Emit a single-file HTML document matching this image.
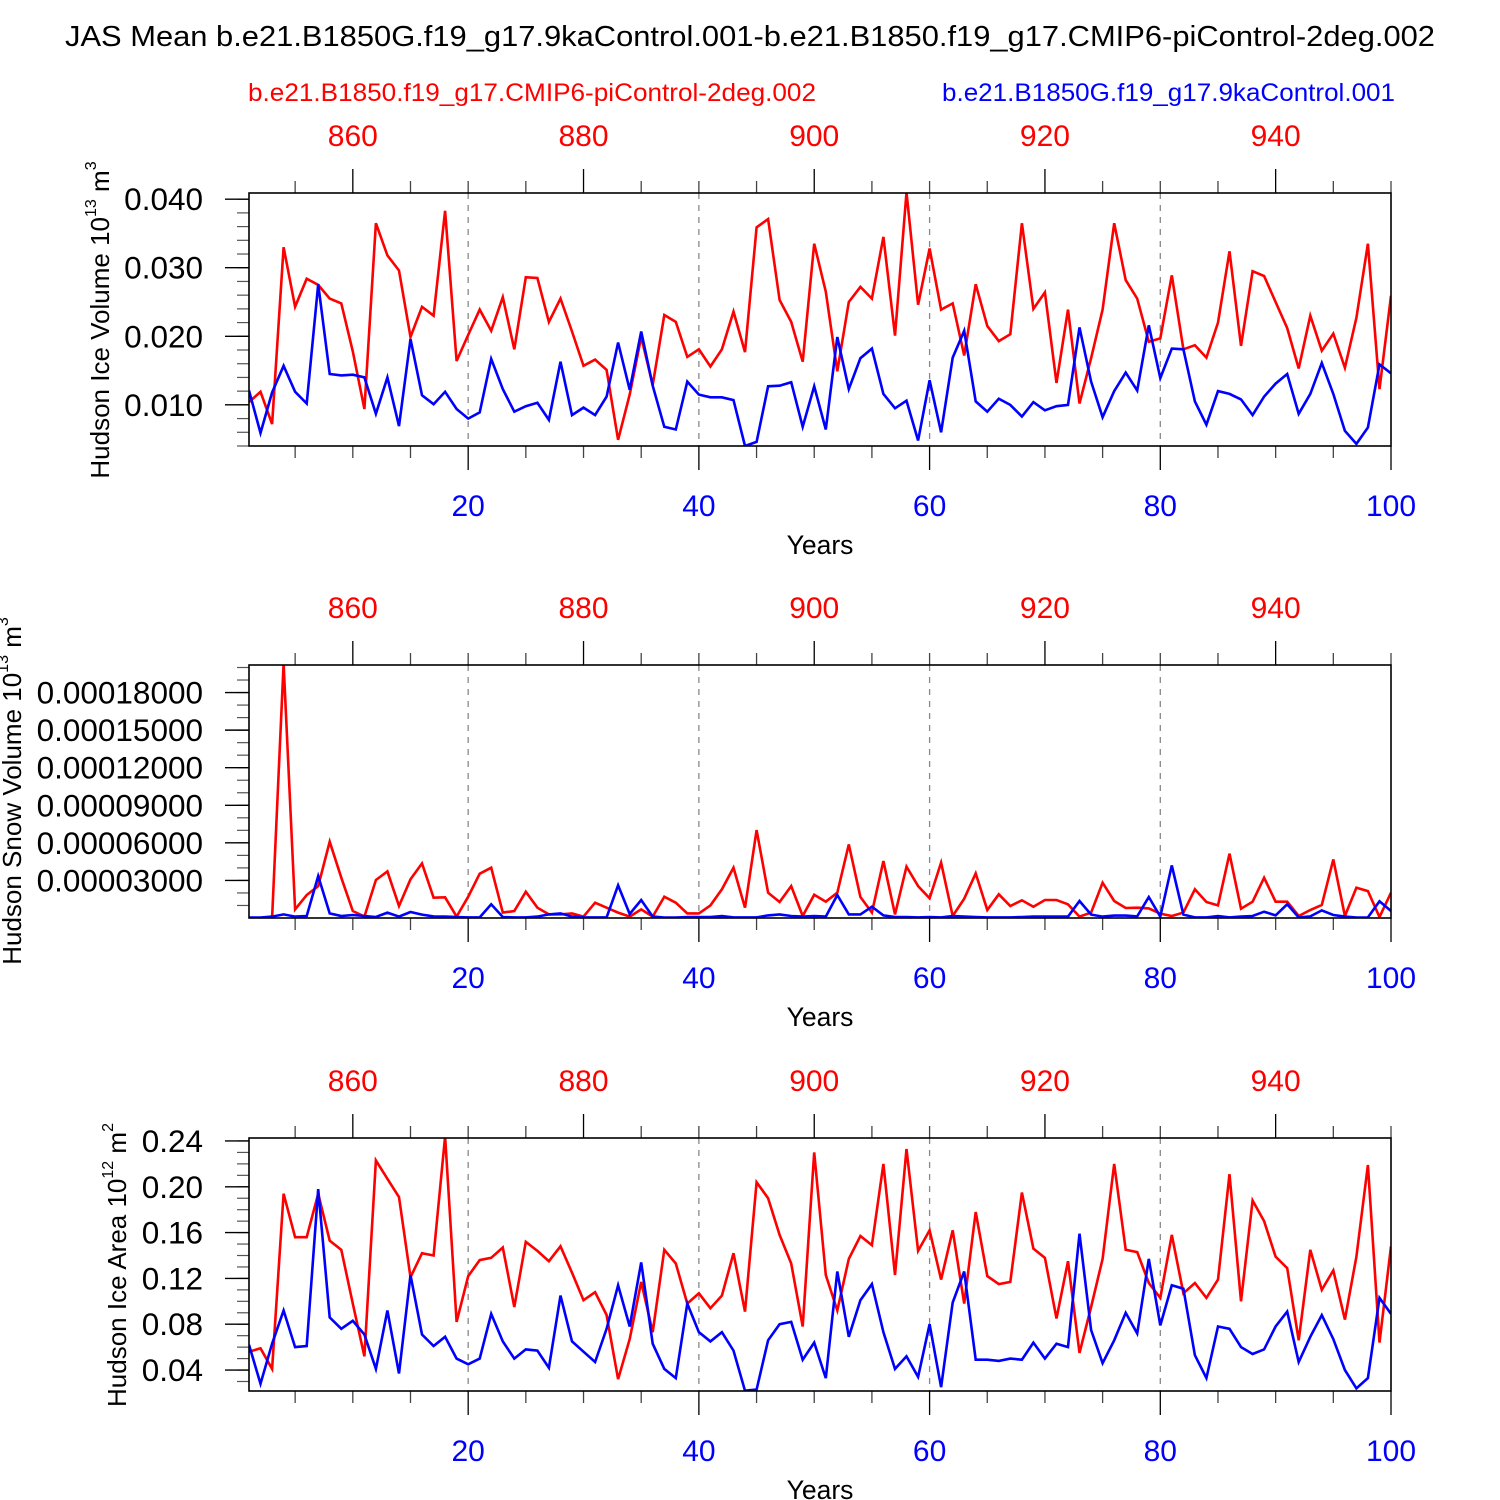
<!DOCTYPE html>
<html><head><meta charset="utf-8"><style>
body{margin:0;background:#fff;}
svg{display:block;font-family:"Liberation Sans",Arial,sans-serif;}
</style></head><body>
<svg id="chart" width="1500" height="1500" viewBox="0 0 1500 1500" xmlns="http://www.w3.org/2000/svg">
<text x="65" y="46" textLength="1370" lengthAdjust="spacingAndGlyphs" font-size="29" fill="#000">JAS Mean b.e21.B1850G.f19_g17.9kaControl.001-b.e21.B1850.f19_g17.CMIP6-piControl-2deg.002</text>
<text x="248" y="101" textLength="568" lengthAdjust="spacingAndGlyphs" font-size="25" fill="#ff0000">b.e21.B1850.f19_g17.CMIP6-piControl-2deg.002</text>
<text x="942" y="101" textLength="453" lengthAdjust="spacingAndGlyphs" font-size="25" fill="#0000ff">b.e21.B1850G.f19_g17.9kaControl.001</text>
</svg>
<script>
const years = Array.from({length:100},(_,i)=>i+1);
const bottomTicks = [20,40,60,80,100];
const topTicks = [860,880,900,920,940];
const yearOffset = 850;

const iceVolRed = [0.0104,0.0119,0.0072,0.0330,0.0243,0.0284,0.0275,0.0255,0.0248,0.0178,0.0094,0.0365,0.0318,0.0296,0.0199,0.0243,0.0230,0.0383,0.0164,0.0202,0.0239,0.0208,0.0257,0.0181,0.0286,0.0285,0.0221,0.0255,0.0207,0.0157,0.0166,0.0151,0.0049,0.0115,0.0199,0.0129,0.0231,0.0221,0.0170,0.0181,0.0156,0.0181,0.0236,0.0177,0.0359,0.0371,0.0253,0.0221,0.0163,0.0335,0.0265,0.0149,0.0250,0.0272,0.0255,0.0345,0.0201,0.0410,0.0246,0.0328,0.0239,0.0248,0.0172,0.0276,0.0215,0.0193,0.0203,0.0365,0.0240,0.0264,0.0132,0.0239,0.0102,0.0168,0.0239,0.0365,0.0282,0.0255,0.0192,0.0197,0.0289,0.0181,0.0187,0.0169,0.0220,0.0324,0.0186,0.0295,0.0288,0.0250,0.0212,0.0153,0.0230,0.0179,0.0204,0.0154,0.0227,0.0335,0.0123,0.0259];
const iceVolBlue = [0.0121,0.0059,0.0118,0.0157,0.0119,0.0102,0.0276,0.0145,0.0143,0.0144,0.0140,0.0087,0.0140,0.0069,0.0196,0.0114,0.0101,0.0119,0.0094,0.0080,0.0089,0.0167,0.0123,0.0090,0.0098,0.0103,0.0078,0.0163,0.0085,0.0096,0.0085,0.0112,0.0191,0.0122,0.0207,0.0128,0.0068,0.0064,0.0134,0.0115,0.0111,0.0111,0.0107,0.0040,0.0046,0.0127,0.0128,0.0133,0.0068,0.0127,0.0064,0.0199,0.0123,0.0168,0.0182,0.0116,0.0095,0.0106,0.0048,0.0136,0.0060,0.0169,0.0208,0.0105,0.0090,0.0109,0.0100,0.0083,0.0104,0.0092,0.0098,0.0100,0.0213,0.0134,0.0082,0.0120,0.0147,0.0121,0.0216,0.0139,0.0182,0.0181,0.0105,0.0071,0.0120,0.0116,0.0108,0.0085,0.0112,0.0131,0.0145,0.0087,0.0116,0.0161,0.0116,0.0062,0.0043,0.0067,0.0159,0.0146];

const snowRed = [0.01e-5,0.00e-5,0.02e-5,20.3e-5,0.69e-5,1.84e-5,2.55e-5,6.09e-5,3.22e-5,0.56e-5,0.11e-5,3.03e-5,3.72e-5,0.96e-5,3.09e-5,4.36e-5,1.62e-5,1.65e-5,0.11e-5,1.70e-5,3.54e-5,4.02e-5,0.43e-5,0.56e-5,2.10e-5,0.82e-5,0.29e-5,0.29e-5,0.37e-5,0.11e-5,1.22e-5,0.82e-5,0.43e-5,0.11e-5,0.69e-5,0.11e-5,1.70e-5,1.22e-5,0.37e-5,0.37e-5,1.01e-5,2.29e-5,4.02e-5,0.82e-5,7.02e-5,2.02e-5,1.28e-5,2.55e-5,0.16e-5,1.86e-5,1.30e-5,2.02e-5,5.88e-5,1.68e-5,0.43e-5,4.55e-5,0.29e-5,4.10e-5,2.55e-5,1.57e-5,4.42e-5,0.16e-5,1.54e-5,3.56e-5,0.64e-5,1.89e-5,0.96e-5,1.41e-5,0.90e-5,1.44e-5,1.44e-5,1.09e-5,0.11e-5,0.43e-5,2.82e-5,1.36e-5,0.80e-5,0.82e-5,0.77e-5,0.35e-5,0.16e-5,0.43e-5,2.29e-5,1.28e-5,1.01e-5,5.13e-5,0.74e-5,1.30e-5,3.22e-5,1.30e-5,1.30e-5,0.16e-5,0.64e-5,1.04e-5,4.68e-5,0.16e-5,2.42e-5,2.15e-5,0.08e-5,2.02e-5];
const snowBlue = [0.03e-5,0.03e-5,0.11e-5,0.29e-5,0.11e-5,0.16e-5,3.35e-5,0.37e-5,0.16e-5,0.24e-5,0.16e-5,0.08e-5,0.43e-5,0.11e-5,0.48e-5,0.27e-5,0.13e-5,0.11e-5,0.08e-5,0.05e-5,0.05e-5,1.09e-5,0.08e-5,0.05e-5,0.05e-5,0.11e-5,0.29e-5,0.37e-5,0.11e-5,0.05e-5,0.05e-5,0.05e-5,2.61e-5,0.32e-5,1.44e-5,0.11e-5,0.03e-5,0.03e-5,0.08e-5,0.08e-5,0.08e-5,0.16e-5,0.05e-5,0.05e-5,0.05e-5,0.21e-5,0.29e-5,0.16e-5,0.11e-5,0.16e-5,0.11e-5,1.84e-5,0.29e-5,0.29e-5,0.90e-5,0.21e-5,0.08e-5,0.08e-5,0.05e-5,0.08e-5,0.05e-5,0.16e-5,0.11e-5,0.08e-5,0.05e-5,0.05e-5,0.05e-5,0.08e-5,0.11e-5,0.11e-5,0.11e-5,0.11e-5,1.36e-5,0.27e-5,0.11e-5,0.19e-5,0.19e-5,0.13e-5,1.68e-5,0.11e-5,4.20e-5,0.27e-5,0.05e-5,0.05e-5,0.16e-5,0.05e-5,0.11e-5,0.16e-5,0.50e-5,0.21e-5,1.09e-5,0.05e-5,0.13e-5,0.61e-5,0.24e-5,0.11e-5,0.03e-5,0.05e-5,1.33e-5,0.56e-5];

const areaRed = [0.056,0.059,0.041,0.194,0.156,0.156,0.194,0.153,0.145,0.098,0.052,0.223,0.207,0.191,0.121,0.142,0.140,0.244,0.082,0.122,0.136,0.138,0.147,0.095,0.152,0.144,0.135,0.148,0.125,0.101,0.108,0.088,0.032,0.067,0.117,0.073,0.145,0.133,0.098,0.107,0.094,0.105,0.142,0.091,0.204,0.190,0.158,0.133,0.078,0.230,0.123,0.092,0.137,0.157,0.149,0.220,0.123,0.233,0.144,0.162,0.119,0.162,0.098,0.178,0.122,0.115,0.117,0.195,0.146,0.138,0.085,0.135,0.055,0.095,0.137,0.220,0.145,0.143,0.116,0.103,0.158,0.107,0.116,0.103,0.119,0.211,0.100,0.188,0.170,0.139,0.129,0.066,0.145,0.110,0.127,0.084,0.139,0.219,0.064,0.148];
const areaBlue = [0.062,0.028,0.063,0.092,0.060,0.061,0.198,0.086,0.076,0.083,0.071,0.041,0.092,0.037,0.123,0.071,0.061,0.069,0.050,0.045,0.050,0.089,0.065,0.050,0.058,0.057,0.042,0.105,0.065,0.056,0.047,0.076,0.114,0.078,0.134,0.063,0.041,0.033,0.098,0.073,0.065,0.073,0.057,0.022,0.023,0.066,0.080,0.082,0.049,0.064,0.033,0.126,0.069,0.101,0.115,0.073,0.041,0.052,0.034,0.080,0.025,0.099,0.126,0.049,0.049,0.048,0.050,0.049,0.064,0.050,0.063,0.060,0.159,0.075,0.046,0.066,0.090,0.072,0.137,0.079,0.114,0.111,0.053,0.033,0.078,0.076,0.060,0.054,0.058,0.078,0.091,0.047,0.069,0.088,0.067,0.040,0.024,0.033,0.103,0.089];

const volTicks = [0.010,0.020,0.030,0.040];
const volTickLabels = ["0.010","0.020","0.030","0.040"];
const snowTicks = [3e-5,6e-5,9e-5,12e-5,15e-5,18e-5];
const snowTickLabels = ["0.00003000","0.00006000","0.00009000","0.00012000","0.00015000","0.00018000"];
const areaTicks = [0.04,0.08,0.12,0.16,0.20,0.24];
const areaTickLabels = ["0.04","0.08","0.12","0.16","0.20","0.24"];

const NS="http://www.w3.org/2000/svg";
const svg=document.getElementById('chart');
function mk(tag,attrs,parent){const e=document.createElementNS(NS,tag);for(const k in attrs)e.setAttribute(k,attrs[k]);(parent||svg).appendChild(e);return e;}

const X0=249,X1=1391;
function xs(yr){return X0+(yr-1)/(100-1)*(X1-X0);}

function panel(o){
  const g=mk('g',{});
  
  
  const T=o.top,B=o.top+253;
  const ys=v=>B-(v-o.ymin)/(o.ymax-o.ymin)*(B-T);
  [20,40,60,80].forEach(t=>{const l=mk('line',{x1:xs(t),x2:xs(t),y1:T,y2:B,stroke:'#888','stroke-width':1.3,'stroke-dasharray':'6,6'},g);
    
    });
  for(let yr=5;yr<=100;yr+=5){const maj=yr%20===0;const l=mk('line',{x1:xs(yr),x2:xs(yr),y1:B,y2:B+(maj?24:12),stroke:maj?'#000':'#444','stroke-width':1.3},g);
    
    }
  bottomTicks.forEach(t=>{const e=mk('text',{x:xs(t),y:B+70,'text-anchor':'middle','font-size':30,fill:'#0000ff'},g);e.textContent=t;
    
    });
  for(let yr=855;yr<=950;yr+=5){const b=yr-yearOffset;if(b<1)continue;const maj=yr%20===0;const l=mk('line',{x1:xs(b),x2:xs(b),y1:T,y2:T-(maj?24:12),stroke:maj?'#000':'#444','stroke-width':1.3},g);
    
    }
  topTicks.forEach(t=>{const e=mk('text',{x:xs(t-yearOffset),y:T-47,'text-anchor':'middle','font-size':30,fill:'#ff0000'},g);e.textContent=t;
    
    });
  for(let v=o.minorStart;v<=o.ymax+1e-12;v+=o.minorStep){const l=mk('line',{x1:X0,x2:X0-12,y1:ys(v),y2:ys(v),stroke:'#555','stroke-width':1.2},g);
    
    }
  o.ticks.forEach((t,i)=>{mk('line',{x1:X0,x2:X0-24,y1:ys(t),y2:ys(t),stroke:'#000','stroke-width':1.4},g);
    const e=mk('text',{x:203,y:ys(t)+11,'text-anchor':'end','font-size':31.5,fill:'#000'},g);e.textContent=o.labels[i];
    
    });
  const cp=mk('clipPath',{id:'clip'+o.name},g);mk('rect',{x:X0,y:T,width:X1-X0,height:B-T},cp);
  [[o.red,'#ff0000','series-red'],[o.blue,'#0000ff','series-blue']].forEach(([arr,c,n])=>{
    const pts=arr.map((v,i)=>xs(years[i]).toFixed(1)+','+ys(v).toFixed(1)).join(' ');
    const p=mk('polyline',{points:pts,fill:'none',stroke:c,'stroke-width':2.6,'stroke-linejoin':'miter','clip-path':'url(#clip'+o.name+')'},g);
    
    
  });
  const fr=mk('rect',{x:X0,y:T,width:X1-X0,height:B-T,fill:'none',stroke:'#000','stroke-width':1.6},g);
  
  
  const xt=mk('text',{x:820,y:B+108,'text-anchor':'middle','font-size':26.5,fill:'#000'},g);xt.textContent='Years';
  
  
  const yt=mk('text',{transform:`translate(${o.ytx},${o.tcy}) rotate(-90)`,'text-anchor':'middle','font-size':26,fill:'#000'},g);
  yt.innerHTML=o.ytitle;
  
  
}

panel({name:'ice-volume-panel',top:193,ymin:0.004,ymax:0.0409,red:iceVolRed,blue:iceVolBlue,ticks:volTicks,labels:volTickLabels,minorStart:0.004,minorStep:0.002,ytx:109,tcy:320,
  ytitle:'Hudson Ice Volume 10<tspan font-size="16" dy="-13">13</tspan><tspan dy="13"> m</tspan><tspan font-size="16" dy="-13">3</tspan>'});
panel({name:'snow-volume-panel',top:665,ymin:0,ymax:0.000202,red:snowRed,blue:snowBlue,ticks:snowTicks,labels:snowTickLabels,minorStart:0.00001,minorStep:0.00001,ytx:21,tcy:791,
  ytitle:'Hudson Snow Volume 10<tspan font-size="16" dy="-13">13</tspan><tspan dy="13"> m</tspan><tspan font-size="16" dy="-13">3</tspan>'});
panel({name:'ice-area-panel',top:1138,ymin:0.0217,ymax:0.2426,red:areaRed,blue:areaBlue,ticks:areaTicks,labels:areaTickLabels,minorStart:0.03,minorStep:0.01,ytx:126,tcy:1265,
  ytitle:'Hudson Ice Area 10<tspan font-size="16" dy="-13">12</tspan><tspan dy="13"> m</tspan><tspan font-size="16" dy="-13">2</tspan>'});
</script>
</body></html>
